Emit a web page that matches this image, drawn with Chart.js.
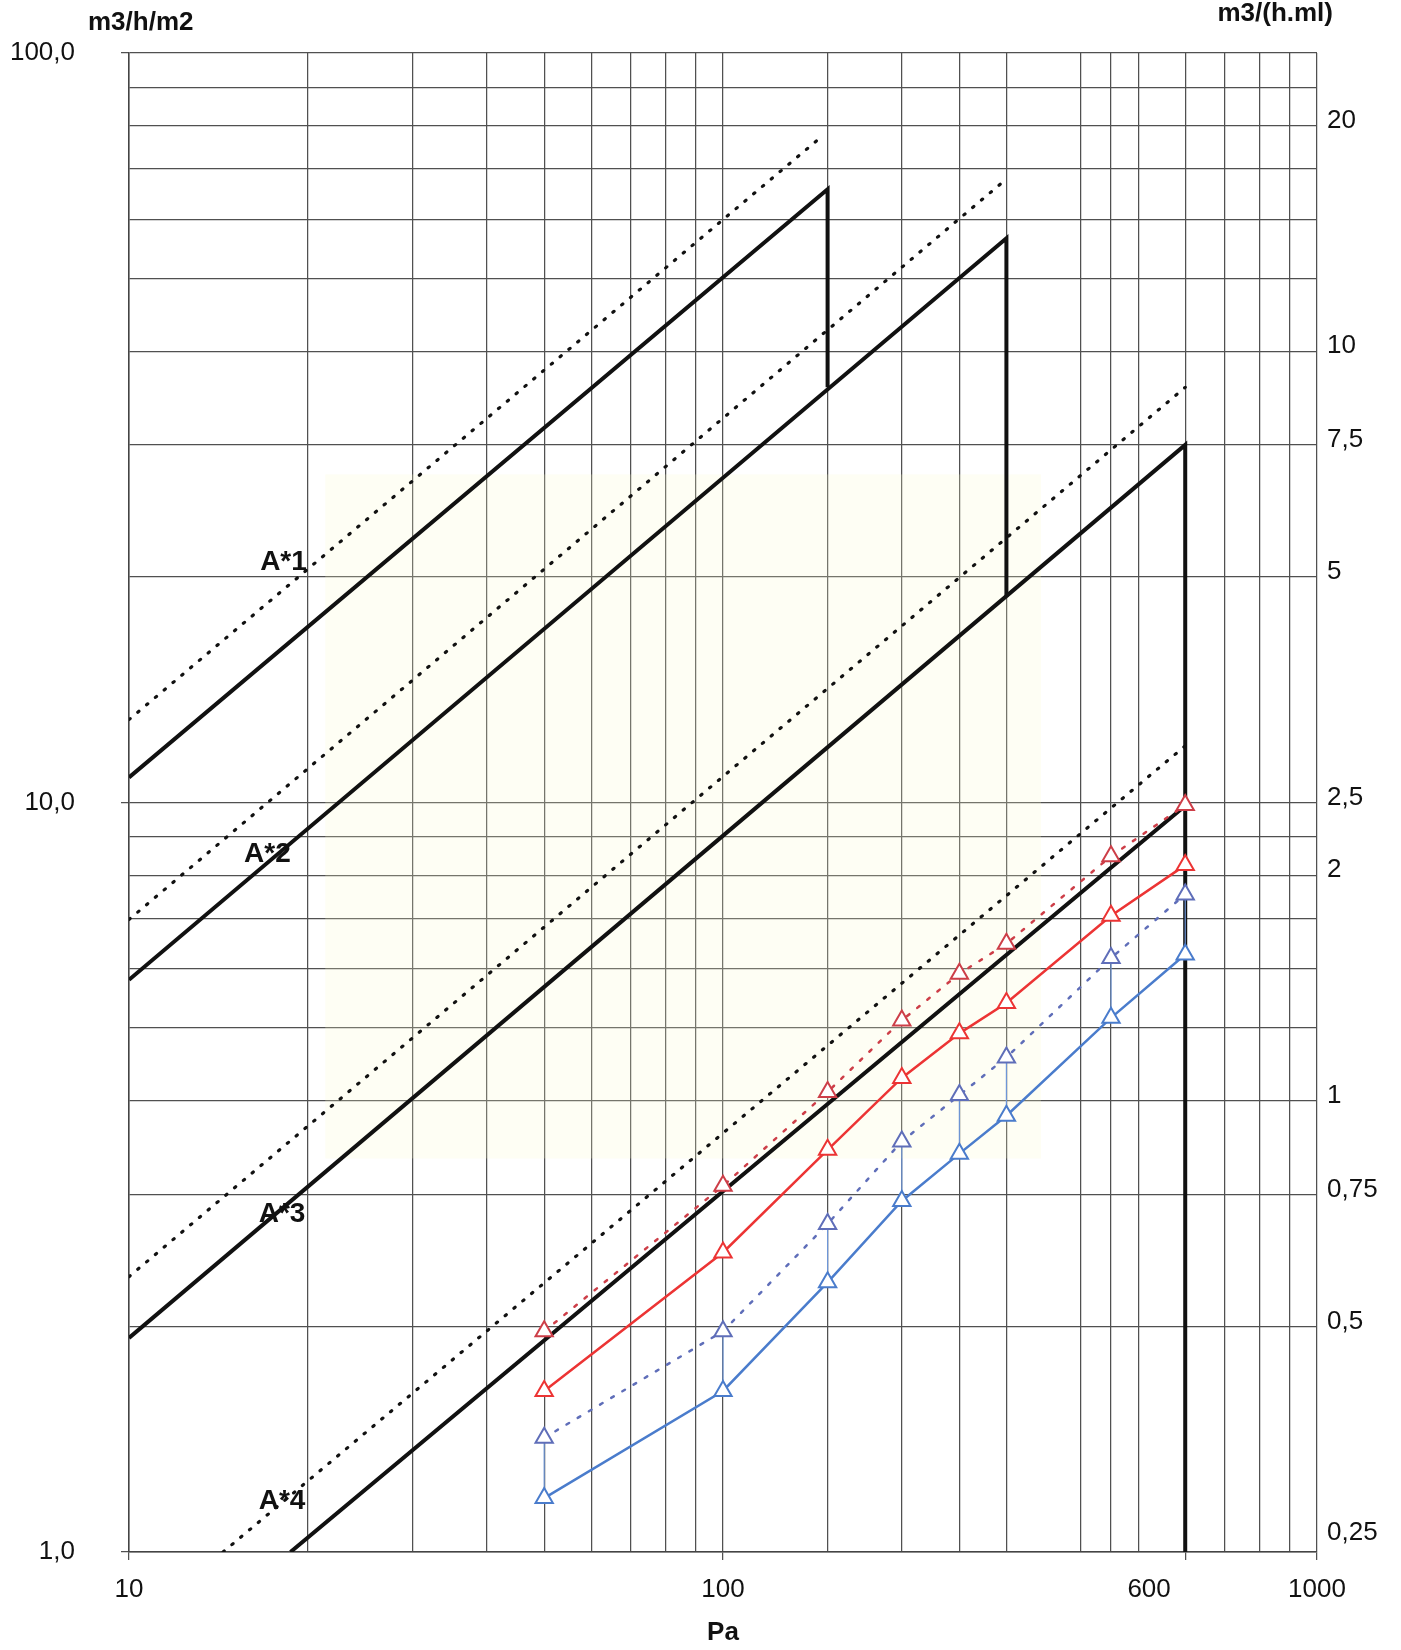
<!DOCTYPE html>
<html><head><meta charset="utf-8">
<script src="https://cdn.jsdelivr.net/npm/chart.js@4/dist/chart.umd.min.js"></script>
<style>html,body{margin:0;padding:0;background:#fff;}#wrap{width:1401px;height:1650px;}</style>
</head><body><div id="wrap"><canvas id="c" width="1401" height="1650"></canvas></div>
<script>
// ---- data ----
const pressures   = [50, 100, 150, 200, 250, 300, 450, 600];
const redDotted   = [1.97, 3.08, 4.11, 5.12, 5.91, 6.48, 8.48, 9.92];
const redSolid    = [1.64, 2.51, 3.44, 4.29, 4.92, 5.40, 7.06, 8.25];
const blueDotted  = [1.42, 1.97, 2.74, 3.53, 4.07, 4.57, 6.20, 7.54];
const blueSolid   = [1.18, 1.64, 2.29, 2.94, 3.40, 3.82, 5.16, 6.27];

const classNames   = ['A*1', 'A*2', 'A*3', 'A*4'];
const classSolidX  = [[10, 150, 150], [10, 300, 300], [10, 600, 600], [18.7, 600, 600]];
const classSolidY  = [[10.8, 65.8, 35.8], [5.8, 56.6, 18.8], [1.93, 30.0, 9.9], [1.0, 9.9, 1.0]];
const classDottedX = [[10, 145], [10, 300], [10, 600], [14.4, 600]];
const classDottedY = [[12.9, 76.8], [6.98, 67.9], [2.33, 35.8], [1.0, 11.9]];
const classLabelX  = [18.2, 17.1, 18.1, 18.1];
const classLabelY  = [20.9, 8.54, 2.82, 1.17];

const xGrid       = [10,20,30,40,50,60,70,80,90,100,150,200,250,300,400,450,500,600,700,800,900,1000];
const xLabelVals  = [10, 100, 600, 1000];
const xLabelTexts = ['10', '100', '600', '1000'];
const yGrid       = [1,2,3,4,5,6,7,8,9,10,20,30,40,50,60,70,80,90,100];
const yLabelVals  = [1, 10, 100];
const yLabelTexts = ['1,0', '10,0', '100,0'];
const y2Ticks     = [0.25, 0.5, 0.75, 1, 2, 2.5, 5, 7.5, 10, 20];
const y2Labels    = ['0,25', '0,5', '0,75', '1', '2', '2,5', '5', '7,5', '10', '20'];
const leftUnit = 'm3/h/m2', rightUnit = 'm3/(h.ml)', xUnit = 'Pa';

// ---- build datasets ----
const FONT = '"Liberation Sans", Arial, sans-serif';
const pts = (xs, ys) => xs.map((x, i) => ({x, y: ys[i]}));
const datasets = [];
function series(label, ys, color, dashed, order) {
  datasets.push({
    label, data: pts(pressures, ys), borderColor: color, borderWidth: 2.5,
    borderDash: dashed ? [3, 10] : [], borderCapStyle: 'round',
    pointStyle: 'triangle', pointRadius: 10, pointBorderWidth: 2,
    pointBorderColor: color, pointBackgroundColor: '#ffffff', tension: 0, order
  });
}
series('red dotted', redDotted, 'rgb(205,62,72)', true, 1);
series('red', redSolid, 'rgb(236,52,52)', false, 1);
series('blue dotted', blueDotted, 'rgb(95,110,185)', true, 1);
series('blue', blueSolid, 'rgb(74,124,204)', false, 1);
// thin connectors between blue pairs
const conn = [];
pressures.forEach((p, i) => { conn.push({x: p, y: blueDotted[i]}, {x: p, y: blueSolid[i]}, {x: p, y: null}); });
datasets.push({label: 'conn', data: conn, borderColor: 'rgb(110,150,215)', borderWidth: 1.2,
  pointRadius: 0, spanGaps: false, order: 2});
classNames.forEach((n, k) => {
  datasets.push({label: n, data: pts(classSolidX[k], classSolidY[k]), borderColor: '#111',
    borderWidth: 4, pointRadius: 0, borderJoinStyle: 'miter', order: 3});
  datasets.push({label: n + ' dotted', data: pts(classDottedX[k], classDottedY[k]), borderColor: '#111',
    borderWidth: 3.2, borderDash: [1.5, 10], borderCapStyle: 'round', pointRadius: 0, order: 3});
});

// ---- plugins ----
const watermark = {id: 'watermark', beforeDatasetsDraw(chart) {
  const {ctx, scales: {x, y}} = chart;
  const x0 = x.getPixelForValue(21.4), x1 = x.getPixelForValue(343);
  const y0 = y.getPixelForValue(27.4), y1 = y.getPixelForValue(3.35);
  ctx.save(); ctx.fillStyle = 'rgba(250,250,205,0.22)'; ctx.fillRect(x0, y0, x1 - x0, y1 - y0); ctx.restore();
}};
const classLabels = {id: 'classLabels', afterDatasetsDraw(chart) {
  const {ctx, scales: {x, y}} = chart;
  ctx.save(); ctx.font = 'bold 28px ' + FONT; ctx.fillStyle = '#111';
  ctx.textAlign = 'center'; ctx.textBaseline = 'middle';
  classNames.forEach((n, k) => ctx.fillText(n, x.getPixelForValue(classLabelX[k]), y.getPixelForValue(classLabelY[k])));
  ctx.restore();
}};
const headings = {id: 'headings', afterDraw(chart) {
  const {ctx, chartArea: a} = chart;
  ctx.save(); ctx.font = 'bold 26px ' + FONT; ctx.fillStyle = '#111'; ctx.textBaseline = 'middle';
  ctx.textAlign = 'left'; ctx.fillText(leftUnit, a.left - 41, 23);
  ctx.textAlign = 'right'; ctx.fillText(rightUnit, a.right + 16, 14);
  ctx.restore();
}};

const GRID = '#505050';
const majorTick = (vals) => (c) => (c.tick && vals.includes(c.tick.value)) ? GRID : 'rgba(0,0,0,0)';
const vFit = (w) => (s) => { s.width = w; s.paddingTop = 0; s.paddingBottom = 0; };

new Chart(document.getElementById('c'), {
  type: 'line',
  data: {datasets},
  plugins: [watermark, classLabels, headings],
  options: {
    responsive: false, animation: false, devicePixelRatio: 1,
    layout: {padding: {top: 53, left: 0, right: 0, bottom: 0}},
    plugins: {legend: {display: false}, tooltip: {enabled: false}},
    scales: {
      x: {
        type: 'logarithmic', position: 'bottom', min: 10, max: 1000,
        afterBuildTicks: s => { s.ticks = xGrid.map(v => ({value: v})); },
        afterFit: s => { s.height = 98; },
        ticks: {autoSkip: false, maxRotation: 0, minRotation: 0, padding: 14, color: '#111',
          font: {family: FONT, size: 26},
          callback: v => { const i = xLabelVals.indexOf(v); if (i < 0) return ''; return v === 600 ? xLabelTexts[i] + ' '.repeat(10) : xLabelTexts[i]; }},
        grid: {color: GRID, lineWidth: 1.25, tickLength: 8, tickColor: majorTick(xLabelVals)},
        border: {color: '#444', width: 1.5},
        title: {display: true, text: xUnit, color: '#111', font: {family: FONT, size: 26, weight: 'bold'}, padding: {top: 0, bottom: 2}}
      },
      y: {
        type: 'logarithmic', position: 'left', min: 1, max: 100,
        afterBuildTicks: s => { s.ticks = yGrid.map(v => ({value: v})); },
        afterFit: vFit(129),
        ticks: {autoSkip: false, padding: 46, color: '#111', font: {family: FONT, size: 26},
          callback: v => { const i = yLabelVals.indexOf(v); return i < 0 ? '' : yLabelTexts[i]; }},
        grid: {color: GRID, lineWidth: 1.25, tickLength: 8, tickColor: majorTick(yLabelVals)},
        border: {color: '#444', width: 1.5}
      },
      y2: {
        type: 'logarithmic', position: 'right', min: 0.25, max: 25,
        afterBuildTicks: s => { s.ticks = y2Ticks.map(v => ({value: v})); },
        afterFit: vFit(84),
        ticks: {autoSkip: false, padding: 10, labelOffset: -5, color: '#111',
          font: {family: FONT, size: 26, lineHeight: 1.1},
          callback: v => { const i = y2Ticks.indexOf(v); if (i < 0) return ''; return v === 0.25 ? [y2Labels[i], ''] : y2Labels[i]; }},
        grid: {display: false, drawTicks: false},
        border: {display: false}
      }
    }
  }
});
</script></body></html>
